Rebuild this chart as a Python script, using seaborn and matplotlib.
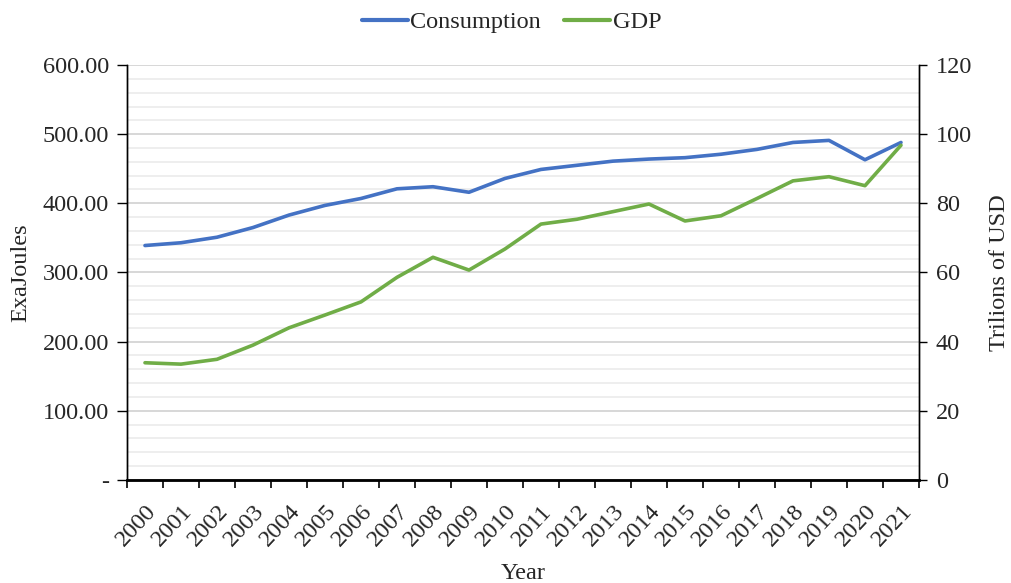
import matplotlib
matplotlib.use("Agg")
import matplotlib.pyplot as plt
from matplotlib.lines import Line2D
from matplotlib.ticker import FixedLocator, FuncFormatter
import numpy as np
import pandas as pd
import seaborn as sns

years = [str(y) for y in range(2000, 2022)]
consumption = [339, 343, 351, 365, 383, 397, 407, 421, 424, 416, 436, 449,
               455, 461, 464, 466, 471, 478, 488, 491, 463, 488]
gdp = [33.9, 33.5, 34.9, 39.0, 44.0, 47.7, 51.5, 58.6, 64.4, 60.7, 66.8, 74.0,
       75.4, 77.6, 79.8, 74.9, 76.4, 81.4, 86.5, 87.7, 85.1, 96.8]

df = pd.DataFrame({"Year": years, "Consumption": consumption, "GDP": gdp})

sns.set_theme(style="white")
plt.rcParams["font.family"] = ["Liberation Serif", "DejaVu Serif"]

BLUE = "#4472C4"
GREEN = "#70AD47"
FS = 17.5

fig = plt.figure(figsize=(10.11, 5.83), dpi=100)
ax = fig.add_axes([0.1256, 0.1767, 0.9090 - 0.1256, 0.8885 - 0.1767])
ax2 = ax.twinx()

sns.lineplot(data=df, x="Year", y="Consumption", ax=ax, color=BLUE,
             linewidth=2.6, sort=False)
sns.lineplot(data=df, x="Year", y="GDP", ax=ax2, color=GREEN,
             linewidth=2.6, sort=False)

n = len(years)
for a in (ax, ax2):
    a.set_xlim(-0.5, n - 0.5)

ax.set_ylim(0, 600)
ax2.set_ylim(0, 120)

# gridlines: major every 100, minor every 20
ax.yaxis.set_major_locator(FixedLocator(np.arange(0, 601, 100)))
ax.yaxis.set_minor_locator(FixedLocator(np.arange(0, 601, 20)))
ax.grid(which="major", axis="y", color="#D4D4D4", linewidth=1.3)
ax.grid(which="minor", axis="y", color="#EDEDED", linewidth=1.3)
ax.grid(which="both", axis="x", visible=False)
ax.set_axisbelow(True)
ax2.grid(False)

ax.yaxis.set_major_formatter(FuncFormatter(lambda v, p: "-" if v == 0 else f"{v:.2f}"))
ax2.yaxis.set_major_locator(FixedLocator(np.arange(0, 121, 20)))
ax2.yaxis.set_major_formatter(FuncFormatter(lambda v, p: f"{v:.0f}"))

# category ticks: labels at centres, tick marks on boundaries
ax.set_xticks(range(n))
ax.set_xticklabels(years, rotation=47, ha="right", rotation_mode="anchor")
ax.xaxis.set_minor_locator(FixedLocator(np.arange(-0.5, n, 1.0)))
ax.tick_params(axis="x", which="major", length=0, labelsize=FS, pad=15)
ax.tick_params(axis="x", which="minor", length=6, width=1.2, color="black",
               direction="out", bottom=True)
ax.tick_params(axis="y", which="major", length=7, width=1, color="black",
               labelsize=FS, direction="out", left=True, pad=6)
ax.tick_params(axis="y", which="minor", length=0)
ax2.tick_params(axis="y", which="major", length=6, width=1, color="black",
                labelsize=FS, direction="out", right=True, pad=6)

for a in (ax, ax2):
    a.spines["top"].set_visible(False)
    for s in ("left", "right", "bottom"):
        a.spines[s].set_color("black")
        a.spines[s].set_linewidth(1.0)
ax.spines["bottom"].set_linewidth(2.0)

ax.set_xlabel("Year", fontsize=FS, labelpad=9)
ax.set_ylabel("ExaJoules", fontsize=FS, labelpad=8)
ax2.set_ylabel("Trilions of USD", fontsize=FS, labelpad=12)

handles = [Line2D([0], [0], color=BLUE, lw=3),
           Line2D([0], [0], color=GREEN, lw=3)]
fig.legend(handles, ["Consumption", "GDP"], loc="center",
           bbox_to_anchor=(0.506, 0.962), ncol=2, frameon=False,
           fontsize=FS, handlelength=1.9, handletextpad=0.1,
           columnspacing=0.95)

fig.savefig("out.png", dpi=100)
